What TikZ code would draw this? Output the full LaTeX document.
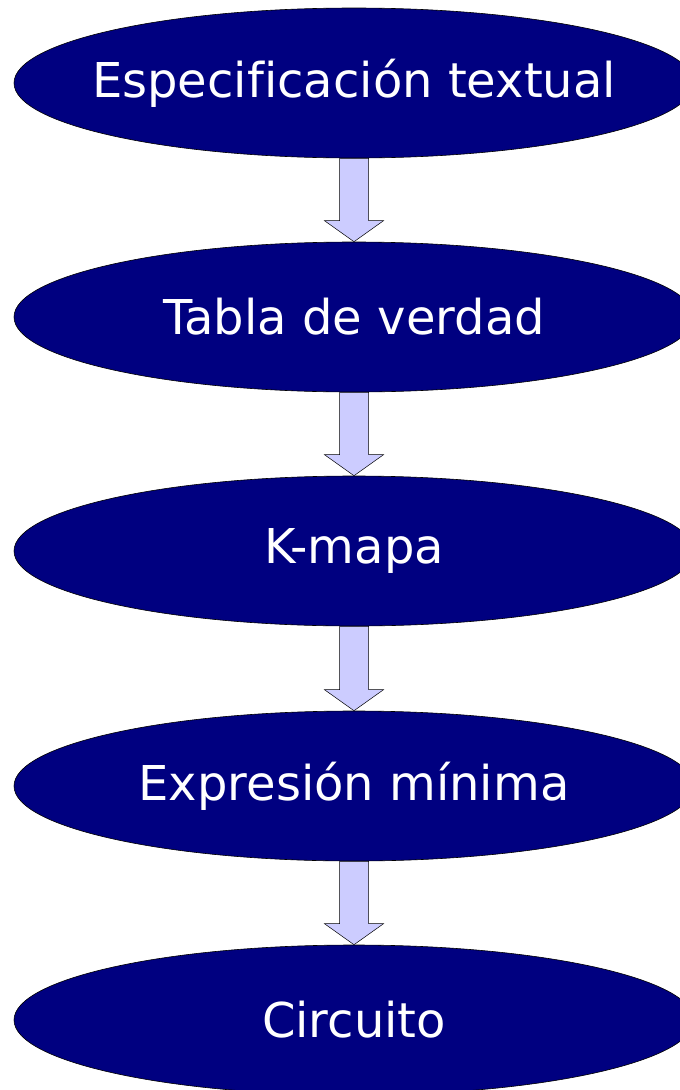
\documentclass[tikz,border=0pt]{standalone}
\usepackage{fontspec}
\setmainfont[Ligatures={NoCommon}]{DejaVu Sans}
\usetikzlibrary{shapes.geometric,calc}
\definecolor{navyfill}{HTML}{000080}
\definecolor{arrowfill}{HTML}{CCCCFF}
\tikzset{
  stage/.style={ellipse, draw=black, line width=0.6pt, fill=navyfill, text=white,
    minimum width=680pt, minimum height=150pt, inner sep=0pt,
    font=\fontsize{48}{56}\selectfont},
  blockarrow/.style={draw=black, line width=0.5pt, fill=arrowfill, line join=miter}
}
\newcommand{\blockarr}[2]{%
  \draw[blockarrow] ($(#1.south)+(-14.5pt,0)$) -- ($(#2.north)+(-14.5pt,21pt)$)
    -- ($(#2.north)+(-29.5pt,21pt)$) -- (#2.north) -- ($(#2.north)+(29.5pt,21pt)$)
    -- ($(#2.north)+(14.5pt,21pt)$) -- ($(#1.south)+(14.5pt,0)$) -- cycle;}
\newcommand{\zw}[1]{\makebox[0pt][c]{#1}}
\begin{document}
\begin{tikzpicture}[x=1pt,y=1pt]
\useasboundingbox (0,0) rectangle (680,-1090);
\node[stage] (e1) at (354,-83) {\zw{Especificación textual}};
\node[stage] (e2) at (354,-317) {\zw{Tabla de verdad}};
\node[stage] (e3) at (354,-551) {\zw{K-mapa}};
\node[stage] (e4) at (354,-786) {\zw{Expresión mínima}};
\node[stage] (e5) at (354,-1020) {\zw{Circuito}};
\blockarr{e1}{e2}
\blockarr{e2}{e3}
\blockarr{e3}{e4}
\blockarr{e4}{e5}
\end{tikzpicture}
\end{document}
